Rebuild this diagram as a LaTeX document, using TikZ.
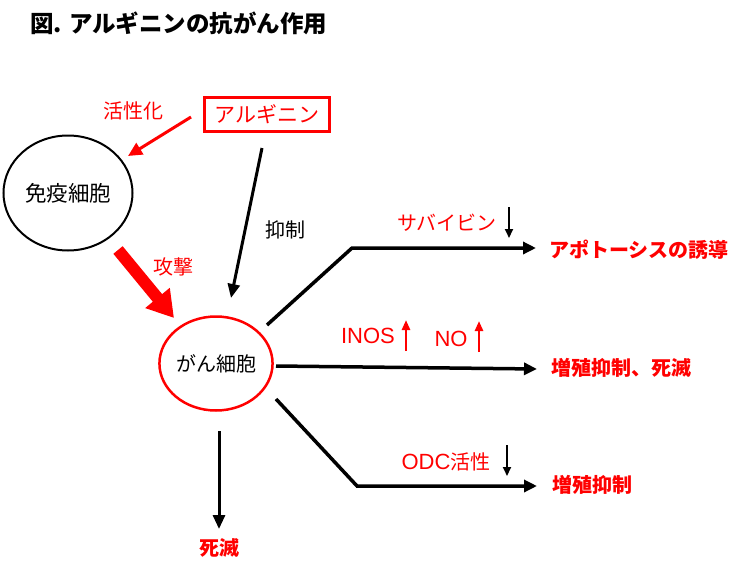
\documentclass[tikz,border=0pt]{standalone}
\usepackage{fontspec}
\setmainfont{Noto Sans CJK JP}
\newfontfamily\latin{Liberation Sans}
\usetikzlibrary{arrows.meta,shapes.geometric}
\definecolor{myred}{RGB}{255,0,0}
\begin{document}
\begin{tikzpicture}[x=1pt,y=-1pt,
  lbl/.style={font=\fontsize{20}{24}\selectfont,inner sep=0pt},
  redlbl/.style={lbl,text=myred},
  latlbl/.style={inner sep=0pt,text=myred,font=\fontsize{22}{26}\selectfont\latin},
  boldred/.style={inner sep=0pt,text=myred,font=\fontsize{20}{24}\selectfont\bfseries},
  blkarrow/.style={line width=3pt,-{Triangle[length=14pt,width=12pt]}},
  brancharrow/.style={line width=3.5pt,line join=miter,-{Triangle[length=13pt,width=12pt]}},
  smalldown/.style={line width=2pt,-{Triangle[length=9pt,width=8pt]}},
  smallup/.style={myred,line width=2.5pt,-{Triangle[length=10pt,width=8pt]}},
  redarrow/.style={myred,line width=3pt,-{Triangle[length=14pt,width=13pt]}},
  bigred/.style={myred,line width=12pt,-{Triangle[length=26pt,width=30pt]}}]
\useasboundingbox (0,0) rectangle (747,573);
% title
\node[anchor=west,inner sep=0pt,font=\fontsize{23.5}{28}\selectfont\bfseries] (title) at (30,23) {図. アルギニンの抗がん作用};
% main nodes
\node[draw,ellipse,line width=2pt,minimum width=129pt,minimum height=115pt,lbl,font=\fontsize{21.5}{26}\selectfont] (men) at (68,193) {免疫細胞};
\node[draw=myred,line width=3pt,minimum width=125pt,minimum height=34pt,redlbl,font=\fontsize{21}{25}\selectfont] (arg) at (267,114.5) {アルギニン};
\node[draw=myred,ellipse,line width=2.5pt,minimum width=102pt,minimum height=94pt,lbl] (gan) at (216,363.5) {がん細胞};
% labels
\node[redlbl] (kasei) at (133,111) {活性化};
\node[lbl] (yokusei) at (285,230) {抑制};
\node[redlbl] (kougeki) at (173,267) {攻撃};
\node[boldred] (shimetsu) at (219,548) {死滅};
\node[redlbl] (survivin) at (447,223) {サバイビン};
\node[boldred,anchor=west] (apop) at (549,250) {アポトーシスの誘導};
\node[latlbl] (inos) at (368,336) {INOS};
\node[latlbl] (no) at (451,339) {NO};
\node[boldred,anchor=west] (zo1) at (551,368) {増殖抑制、死滅};
\node[redlbl] (odc) at (446,462) {{\latin\fontsize{22}{26}\selectfont ODC}活性};
\node[boldred,anchor=west] (zo2) at (552,485) {増殖抑制};
% coordinates
\coordinate (actS) at (191,117);
\coordinate (actE) at (128,156);
\coordinate (inhS) at (262,148);
\coordinate (inhE) at (231,298);
\coordinate (atkS) at (118,250);
\coordinate (atkE) at (174,318);
\coordinate (dieS) at (219,431);
\coordinate (dieE) at (219,529);
\coordinate (b1S) at (267,325);
\coordinate (b1C) at (352,248);
\coordinate (b1E) at (536,248);
\coordinate (b2S) at (276,366);
\coordinate (b2E) at (537,369);
\coordinate (b3S) at (276,399);
\coordinate (b3C) at (357,486);
\coordinate (b3E) at (537,486);
\coordinate (sd1S) at (509,207);
\coordinate (sd1E) at (509,238);
\coordinate (sd2S) at (507,445);
\coordinate (sd2E) at (507,476);
\coordinate (su1S) at (406,351);
\coordinate (su1E) at (406,320);
\coordinate (su2S) at (479,352);
\coordinate (su2E) at (479,321);
% connectors
\draw[redarrow] (actS) -- (actE);
\draw[blkarrow] (inhS) -- (inhE);
\draw[bigred] (atkS) -- (atkE);
\draw[blkarrow] (dieS) -- (dieE);
\draw[brancharrow] (b1S) -- (b1C) -- (b1E);
\draw[brancharrow] (b2S) -- (b2E);
\draw[brancharrow] (b3S) -- (b3C) -- (b3E);
\draw[smalldown] (sd1S) -- (sd1E);
\draw[smalldown] (sd2S) -- (sd2E);
\draw[smallup] (su1S) -- (su1E);
\draw[smallup] (su2S) -- (su2E);
\end{tikzpicture}
\end{document}
